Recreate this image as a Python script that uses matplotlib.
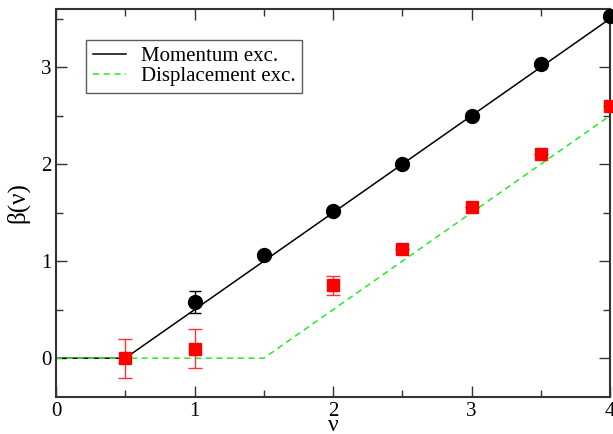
import numpy as np
import matplotlib
matplotlib.use('Agg')
import matplotlib.pyplot as plt
from matplotlib.ticker import MultipleLocator

plt.rcParams['font.family'] = ['Liberation Serif', 'DejaVu Serif']
plt.rcParams['mathtext.fontset'] = 'stix'

# data
nu_mom = [1.0, 1.5, 2.0, 2.5, 3.0, 3.5, 4.0]
beta_mom = [0.58, 1.06, 1.52, 2.00, 2.50, 3.03, 3.53]
err_mom = [0.11, 0.0, 0.0, 0.0, 0.0, 0.0, 0.0]

nu_disp = [0.5, 1.0, 2.0, 2.5, 3.0, 3.5, 4.0]
beta_disp = [0.0, 0.10, 0.75, 1.13, 1.56, 2.10, 2.60]
err_disp = [0.20, 0.20, 0.10, 0.0, 0.0, 0.0, 0.0]

# theory curves (piecewise linear)
nu_line_mom = [0.0, 0.5, 4.0]
beta_line_mom = [0.0, 0.0, 3.5]
nu_line_disp = [0.0, 1.5, 4.0]
beta_line_disp = [0.0, 0.0, 2.5]

fig = plt.figure(figsize=(6.13, 4.34), dpi=100)
ax = fig.add_axes([56/613, 1 - 397/434, (610 - 56)/613, (397 - 9)/434])

ax.plot(nu_line_mom, beta_line_mom, color='black', lw=1.1, label='Momentum exc.')
ax.plot(nu_line_disp, beta_line_disp, color='#22ee22', lw=1.1, ls=(0, (4, 3)),
        label='Displacement exc.')

ax.errorbar(nu_mom, beta_mom, yerr=err_mom, fmt='o', color='black', ms=10,
            capsize=4.5, elinewidth=1, capthick=1, clip_on=False, zorder=4)
ax.errorbar(nu_disp, beta_disp, yerr=err_disp, fmt='s', color='red', ms=9,
            ecolor='#ff3333', capsize=5, elinewidth=1, capthick=1, clip_on=False, zorder=4)

ax.set_xlim(0, 4)
ax.set_ylim(-0.4, 3.6)
ax.xaxis.set_major_locator(MultipleLocator(1))
ax.xaxis.set_minor_locator(MultipleLocator(0.5))
ax.yaxis.set_major_locator(MultipleLocator(1))
ax.yaxis.set_minor_locator(MultipleLocator(0.5))
ax.tick_params(which='both', direction='in', top=True, right=True, labelsize=15,
               width=1, color='#333333')
ax.tick_params(which='major', length=8)
ax.tick_params(which='minor', length=5)
for s in ax.spines.values():
    s.set_linewidth(1.5)
    s.set_color('#333333')

ax.set_xlabel('ν', fontsize=17, labelpad=-4)
ax.set_ylabel('β(ν)', fontsize=18, labelpad=8)

leg = ax.legend(loc='upper left', bbox_to_anchor=(0.055, 0.92), fontsize=15,
                frameon=True, fancybox=False, edgecolor='#333333', handlelength=1.6,
                borderpad=0.3, labelspacing=0.05, handletextpad=0.7, borderaxespad=0)
leg.get_frame().set_linewidth(1)

fig.savefig('out.png', dpi=100)
